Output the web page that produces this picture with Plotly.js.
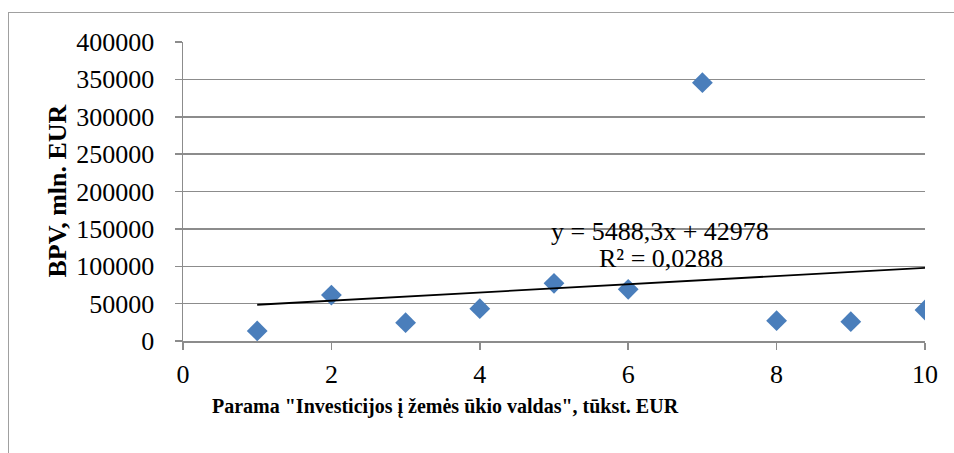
<!DOCTYPE html>
<html>
<head>
<meta charset="utf-8">
<script src="https://cdn.plot.ly/plotly-3.0.1.min.js"></script>
<style>
  html, body { margin: 0; padding: 0; background: #fff; }
  #wrap { position: relative; width: 954px; height: 453px; }
  #chart { position: absolute; left: 0; top: 0; width: 954px; height: 453px; }
  #frame { position: absolute; left: 8px; top: 12px; width: 960px; height: 460px;
           border-top: 1.5px solid #a0a0a0; border-left: 1.5px solid #a0a0a0; pointer-events: none; }
</style>
</head>
<body>
<div id="wrap">
  <div id="chart"></div>
  <div id="frame"></div>
</div>
<script>
// Data
const support = [1, 2, 3, 4, 5, 6, 7, 8, 9, 10];
const bpv = [13500, 61500, 24500, 43200, 77200, 69100, 345600, 27200, 25800, 41500];

// Trendline as stated on the chart
const trendSlope = 5488.3;
const trendIntercept = 42978;
const trendX = [1, 10];
const trendY = trendX.map(x => trendSlope * x + trendIntercept);

const eqText = "y = 5488,3x + 42978";
const r2Text = "R² = 0,0288";
const xTitle = 'Parama "Investicijos į žemės ūkio valdas", tūkst. EUR';
const yTitle = "BPV, mln. EUR";

const font = "'Liberation Serif', 'Times New Roman', serif";
const fs = 26;

const traces = [
  {
    x: support, y: bpv, type: "scatter", mode: "markers",
    marker: { symbol: "diamond", size: 16, color: "#4a7ebb" },
    showlegend: false, hoverinfo: "x+y"
  },
  {
    x: trendX, y: trendY, type: "scatter", mode: "lines",
    line: { color: "#000000", width: 1.8 },
    showlegend: false, hoverinfo: "skip"
  }
];

const layout = {
  width: 954, height: 453,
  margin: { l: 183, r: 29, t: 42, b: 112 },
  paper_bgcolor: "#ffffff", plot_bgcolor: "#ffffff",
  font: { family: font, size: fs, color: "#000000" },
  xaxis: {
    range: [0, 10], dtick: 2, tick0: 0,
    showgrid: false, zeroline: false,
    showline: true, linecolor: "#8c8c8c", linewidth: 1.5,
    ticks: "outside", ticklen: 7, tickcolor: "#8c8c8c", tickwidth: 1.5,
    tickfont: { family: font, size: fs, color: "#000000" },
    ticklabelstandoff: 2,
    title: { text: "" }
  },
  yaxis: {
    range: [0, 400000], dtick: 50000, tick0: 0,
    showgrid: true, gridcolor: "#8c8c8c", gridwidth: 1.5,
    zeroline: false,
    showline: true, linecolor: "#8c8c8c", linewidth: 1.5,
    ticks: "outside", ticklen: 7, tickcolor: "#8c8c8c", tickwidth: 1.5,
    tickfont: { family: font, size: fs, color: "#000000" },
    ticklabelstandoff: 15,
    tickformat: "d",
    title: { text: "" }
  },
  annotations: [
    {
      xref: "paper", yref: "paper", x: 0.354, y: -0.22, xanchor: "center", yanchor: "middle",
      text: "<b>" + xTitle + "</b>", showarrow: false, font: { family: font, size: 20, color: "#000000" }
    },
    {
      xref: "paper", yref: "paper", x: -0.169, y: 0.502, xanchor: "center", yanchor: "middle",
      textangle: -90,
      text: "<b>" + yTitle + "</b>", showarrow: false, font: { family: font, size: fs, color: "#000000" }
    },
    {
      x: 6.43, y: 147000, xanchor: "center", yanchor: "middle",
      text: eqText, showarrow: false, font: { family: font, size: fs, color: "#000000" }
    },
    {
      x: 6.44, y: 110000, xanchor: "center", yanchor: "middle",
      text: r2Text, showarrow: false, font: { family: font, size: fs, color: "#000000" }
    }
  ]
};

Plotly.newPlot("chart", traces, layout, { staticPlot: true, displayModeBar: false });
</script>
</body>
</html>
